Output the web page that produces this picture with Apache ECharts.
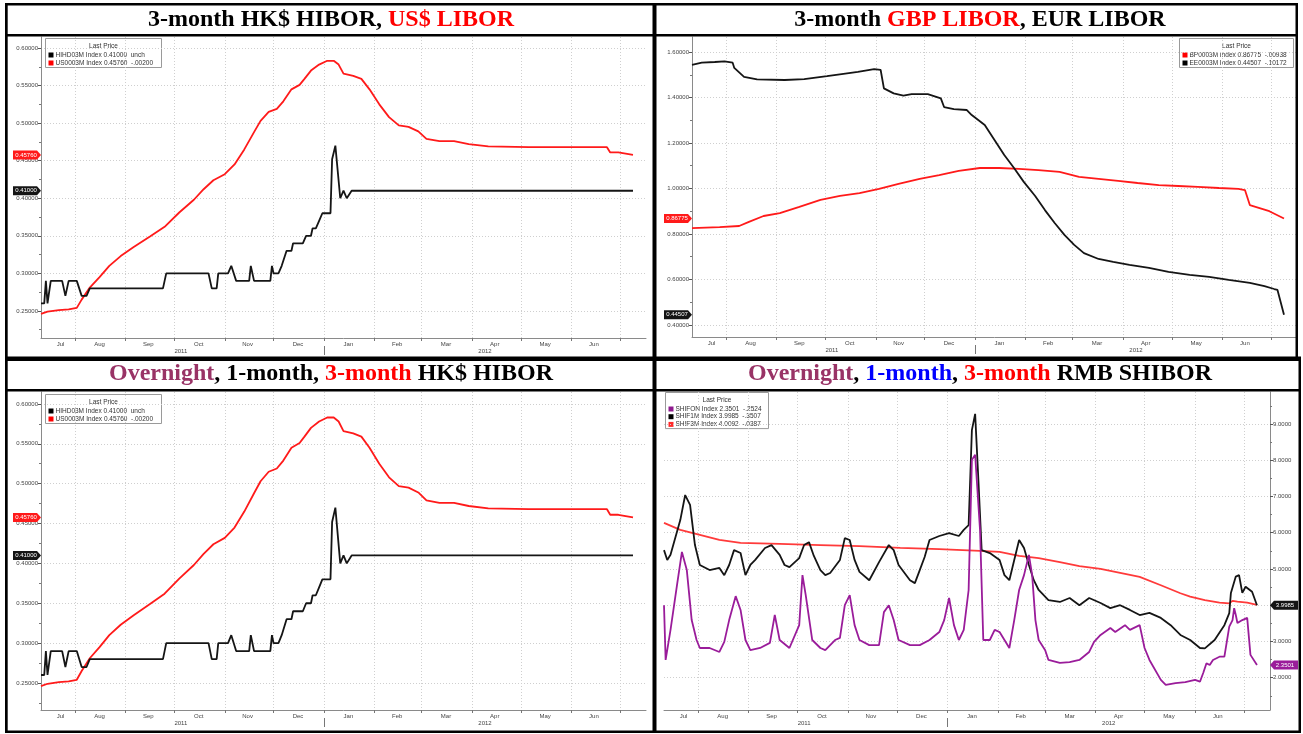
<!DOCTYPE html>
<html><head><meta charset="utf-8">
<script src="https://cdn.jsdelivr.net/npm/echarts@6.0.0/dist/echarts.min.js"></script>
<style>html,body{margin:0;padding:0;background:#fff;}#chart{width:1303px;height:734px;}</style>
</head><body><div id="chart"></div>
<script>
// ---------------- data ----------------
const MONTHS = ['Jan','Feb','Mar','Apr','May','Jun','Jul','Aug','Sep','Oct','Nov','Dec'];
const axisStart = '2011-07-11', axisEnd = '2012-07-17';
const monthStarts = ['2011-08-01','2011-09-01','2011-10-01','2011-11-01','2011-12-01','2012-01-01','2012-02-01','2012-03-01','2012-04-01','2012-05-01','2012-06-01','2012-07-01'];
const monthLabelAt = ['2011-07-23','2011-08-16','2011-09-15','2011-10-16','2011-11-15','2011-12-16','2012-01-16','2012-02-15','2012-03-16','2012-04-15','2012-05-16','2012-06-15'];
const yearLabelAt = ['2011-10-05','2012-04-09'];
const yearBreak = ['2012-01-01'];

const hkTicks = [0.25,0.30,0.35,0.40,0.45,0.50,0.55,0.60];
const hkMinor = [0.225,0.275,0.325,0.375,0.425,0.475,0.525,0.575];
const gbpTicks = [0.4,0.6,0.8,1.0,1.2,1.4,1.6];
const gbpMinor = [0.5,0.7,0.9,1.1,1.3,1.5];
const shTicks = [2,3,4,5,6,7,8,9];
const shMinor = [1.5,2.5,3.5,4.5,5.5,6.5,7.5,8.5,9.5];

// 3M HK$ HIBOR
const hiborDates = ['2011-07-11','2011-07-13','2011-07-14','2011-07-15','2011-07-17','2011-07-24','2011-07-26','2011-07-28','2011-08-02','2011-08-05','2011-08-08','2011-08-10','2011-09-24','2011-09-26','2011-10-22','2011-10-24','2011-10-27','2011-10-28','2011-11-03','2011-11-05','2011-11-08','2011-11-16','2011-11-17','2011-11-19','2011-11-29','2011-11-30','2011-12-01','2011-12-04','2011-12-06','2011-12-09','2011-12-12','2011-12-13','2011-12-19','2011-12-21','2011-12-24','2011-12-25','2011-12-27','2011-12-29','2011-12-31','2012-01-05','2012-01-06','2012-01-08','2012-01-09','2012-01-11','2012-01-13','2012-01-15','2012-01-16','2012-01-18','2012-07-09'];
const hiborValues = [0.26,0.26,0.29,0.26,0.29,0.29,0.27,0.29,0.29,0.27,0.27,0.28,0.28,0.30,0.30,0.28,0.28,0.30,0.30,0.31,0.29,0.29,0.31,0.29,0.29,0.31,0.30,0.30,0.31,0.33,0.33,0.34,0.34,0.35,0.35,0.36,0.36,0.37,0.38,0.38,0.452,0.47,0.47,0.40,0.41,0.40,0.40,0.41,0.41];

// 3M US$ LIBOR
const usDates = ['2011-07-11','2011-07-15','2011-07-22','2011-07-28','2011-08-02','2011-08-05','2011-08-10','2011-08-16','2011-08-22','2011-08-29','2011-09-06','2011-09-16','2011-09-25','2011-10-04','2011-10-13','2011-10-19','2011-10-25','2011-11-01','2011-11-07','2011-11-13','2011-11-19','2011-11-23','2011-11-28','2011-12-03','2011-12-07','2011-12-12','2011-12-17','2011-12-20','2011-12-24','2011-12-29','2012-01-03','2012-01-07','2012-01-10','2012-01-13','2012-01-19','2012-01-24','2012-01-29','2012-02-04','2012-02-10','2012-02-16','2012-02-22','2012-02-28','2012-03-04','2012-03-12','2012-03-21','2012-03-30','2012-04-11','2012-05-06','2012-05-25','2012-06-12','2012-06-23','2012-06-25','2012-06-30','2012-07-09'];
const usValues = [0.246,0.249,0.251,0.252,0.254,0.265,0.281,0.295,0.310,0.323,0.335,0.349,0.362,0.381,0.398,0.412,0.424,0.432,0.445,0.465,0.488,0.503,0.515,0.519,0.529,0.545,0.551,0.559,0.570,0.578,0.583,0.583,0.578,0.566,0.563,0.559,0.545,0.525,0.508,0.497,0.495,0.489,0.479,0.476,0.476,0.472,0.469,0.468,0.468,0.468,0.468,0.461,0.461,0.4576];

// 3M GBP LIBOR
const gbpDates = ['2011-07-11','2011-07-28','2011-08-09','2011-08-15','2011-08-24','2011-09-03','2011-09-15','2011-09-28','2011-10-10','2011-10-22','2011-11-03','2011-11-15','2011-11-28','2011-12-10','2011-12-22','2012-01-04','2012-01-16','2012-01-28','2012-02-09','2012-02-22','2012-03-05','2012-03-17','2012-03-29','2012-04-10','2012-04-23','2012-05-05','2012-05-17','2012-05-30','2012-06-11','2012-06-15','2012-06-18','2012-06-24','2012-06-30','2012-07-09'];
const gbpValues = [0.826,0.83,0.835,0.853,0.879,0.892,0.919,0.95,0.967,0.98,0.998,1.02,1.042,1.059,1.077,1.09,1.09,1.086,1.081,1.073,1.051,1.042,1.033,1.024,1.015,1.011,1.007,1.002,0.998,0.993,0.927,0.914,0.9,0.86775];

// 3M EUR LIBOR
const eurDates = ['2011-07-11','2011-07-17','2011-07-25','2011-07-31','2011-08-05','2011-08-06','2011-08-12','2011-08-20','2011-09-06','2011-09-18','2011-10-02','2011-10-11','2011-10-21','2011-10-31','2011-11-04','2011-11-06','2011-11-12','2011-11-18','2011-11-23','2011-12-03','2011-12-11','2011-12-13','2011-12-19','2011-12-27','2011-12-30','2012-01-07','2012-01-13','2012-01-19','2012-01-25','2012-01-31','2012-02-07','2012-02-13','2012-02-19','2012-02-25','2012-03-02','2012-03-08','2012-03-17','2012-03-26','2012-04-05','2012-04-17','2012-04-29','2012-05-12','2012-05-24','2012-06-05','2012-06-18','2012-06-27','2012-07-03','2012-07-05','2012-07-09'];
const eurValues = [1.543,1.553,1.556,1.559,1.553,1.53,1.491,1.48,1.477,1.481,1.494,1.503,1.513,1.525,1.521,1.44,1.418,1.408,1.415,1.415,1.396,1.358,1.349,1.345,1.323,1.279,1.213,1.147,1.09,1.029,0.967,0.905,0.848,0.796,0.752,0.716,0.69,0.677,0.664,0.651,0.633,0.62,0.611,0.598,0.585,0.571,0.558,0.554,0.44507];

// SHIBOR overnight
const onDates = ['2011-07-11','2011-07-12','2011-07-15','2011-07-19','2011-07-22','2011-07-25','2011-07-28','2011-07-31','2011-08-02','2011-08-08','2011-08-14','2011-08-17','2011-08-20','2011-08-24','2011-08-27','2011-08-30','2011-09-02','2011-09-08','2011-09-14','2011-09-17','2011-09-20','2011-09-26','2011-10-02','2011-10-04','2011-10-06','2011-10-10','2011-10-15','2011-10-18','2011-10-24','2011-10-27','2011-10-30','2011-11-02','2011-11-05','2011-11-08','2011-11-14','2011-11-20','2011-11-23','2011-11-26','2011-11-29','2011-12-02','2011-12-09','2011-12-15','2011-12-21','2011-12-27','2011-12-30','2012-01-02','2012-01-05','2012-01-08','2012-01-11','2012-01-14','2012-01-16','2012-01-18','2012-01-21','2012-01-23','2012-01-27','2012-01-30','2012-02-02','2012-02-05','2012-02-08','2012-02-11','2012-02-14','2012-02-17','2012-02-20','2012-02-22','2012-02-24','2012-02-26','2012-03-01','2012-03-03','2012-03-10','2012-03-16','2012-03-22','2012-03-28','2012-03-31','2012-04-04','2012-04-10','2012-04-13','2012-04-19','2012-04-22','2012-04-28','2012-05-01','2012-05-04','2012-05-11','2012-05-14','2012-05-20','2012-05-26','2012-06-01','2012-06-04','2012-06-06','2012-06-08','2012-06-10','2012-06-12','2012-06-16','2012-06-19','2012-06-20','2012-06-22','2012-06-24','2012-06-25','2012-06-26','2012-06-27','2012-06-30','2012-07-03','2012-07-05','2012-07-06','2012-07-09'];
const onValues = [4.0,2.49,3.32,4.56,5.47,4.97,3.59,3.04,2.82,2.82,2.71,2.99,3.59,4.25,3.87,3.04,2.76,2.82,2.96,3.73,3.04,2.82,3.45,4.83,4.28,3.04,2.82,2.76,3.04,3.1,4.0,4.28,3.45,3.04,2.9,2.9,3.81,4.0,3.59,3.04,2.9,2.9,3.04,3.26,3.59,4.2,3.45,3.04,3.32,4.42,8.01,8.15,6.08,3.04,3.04,3.32,3.26,3.04,2.82,3.59,4.42,4.83,5.39,4.83,3.59,3.04,2.76,2.49,2.41,2.43,2.49,2.71,2.99,3.18,3.37,3.26,3.45,3.32,3.45,2.82,2.49,1.94,1.8,1.85,1.88,1.94,1.89,2.13,2.4,2.35,2.49,2.58,2.58,2.86,3.41,3.59,3.92,3.73,3.51,3.59,3.65,2.63,2.6,2.3501];

// SHIBOR 1-month
const m1Dates = ['2011-07-11','2011-07-13','2011-07-15','2011-07-21','2011-07-24','2011-07-27','2011-07-30','2011-08-02','2011-08-08','2011-08-14','2011-08-17','2011-08-20','2011-08-23','2011-08-27','2011-08-30','2011-09-02','2011-09-05','2011-09-11','2011-09-15','2011-09-20','2011-09-23','2011-09-26','2011-10-02','2011-10-05','2011-10-08','2011-10-11','2011-10-15','2011-10-18','2011-10-21','2011-10-27','2011-10-30','2011-11-02','2011-11-05','2011-11-08','2011-11-14','2011-11-20','2011-11-26','2011-11-29','2011-12-02','2011-12-09','2011-12-12','2011-12-15','2011-12-18','2011-12-21','2011-12-27','2012-01-02','2012-01-08','2012-01-11','2012-01-14','2012-01-16','2012-01-18','2012-01-20','2012-01-22','2012-01-27','2012-02-02','2012-02-05','2012-02-08','2012-02-11','2012-02-14','2012-02-17','2012-02-20','2012-02-23','2012-02-26','2012-03-03','2012-03-10','2012-03-16','2012-03-22','2012-03-28','2012-04-04','2012-04-10','2012-04-16','2012-04-22','2012-04-28','2012-05-04','2012-05-11','2012-05-17','2012-05-23','2012-05-29','2012-06-04','2012-06-07','2012-06-13','2012-06-19','2012-06-22','2012-06-23','2012-06-26','2012-06-28','2012-06-30','2012-07-02','2012-07-06','2012-07-09'];
const m1Values = [5.52,5.25,5.39,6.35,7.04,6.77,5.66,5.11,4.97,5.03,4.83,5.11,5.52,5.44,4.83,5.11,5.25,5.58,5.66,5.39,5.11,5.05,5.3,5.66,5.74,5.36,4.97,4.83,4.89,5.25,5.85,5.8,5.25,4.92,4.69,5.19,5.66,5.52,5.11,4.69,4.61,4.97,5.33,5.8,5.91,5.99,5.91,6.08,6.21,8.83,9.28,7.45,5.52,5.44,5.25,4.83,4.69,5.25,5.8,5.58,5.11,4.69,4.42,4.14,4.09,4.2,4.0,4.2,4.06,3.92,4.0,3.87,3.73,3.79,3.65,3.45,3.18,3.04,2.82,2.81,3.04,3.45,3.78,4.34,4.79,4.83,4.34,4.51,4.37,3.9985];

// SHIBOR 3-month
const m3Dates = ['2011-07-11','2011-07-21','2011-08-02','2011-08-14','2011-08-27','2011-09-20','2011-10-15','2011-11-08','2011-12-03','2011-12-27','2012-01-21','2012-02-02','2012-02-14','2012-02-26','2012-03-10','2012-03-22','2012-04-04','2012-04-16','2012-04-28','2012-05-11','2012-05-23','2012-05-29','2012-06-07','2012-06-16','2012-06-22','2012-06-24','2012-06-27','2012-07-03','2012-07-09'];
const m3Values = [6.27,6.08,5.94,5.8,5.72,5.69,5.66,5.63,5.58,5.55,5.5,5.47,5.36,5.3,5.19,5.08,5.0,4.89,4.78,4.55,4.33,4.24,4.14,4.07,4.05,4.12,4.1,4.07,4.0092];

const legendHK = [['#000','HIHD03M Index 0.41000  unch'],['#ff0000','US0003M Index 0.45760  -.00200']];
const legendEU = [['#ff0000','BP0003M Index 0.86775  -.00938'],['#000','EE0003M Index 0.44507  -.10172']];
const legendSH = [['#8e1a8e','SHIFON Index 2.3501  -.2524'],['#000','SHIF1M Index 3.9985  -.3507'],['#ff2a2a','SHIF3M Index 4.0092  -.0387']];

// ---------------- helpers ----------------
const T = s => { const p = s.split('-').map(Number); return Date.UTC(p[0], p[1]-1, p[2]); };
const mk = (d, v) => d.map((x, i) => [T(x), v[i]]);
const FONT = 'Liberation Sans';
const RED = '#ff1a1a', BLK = '#151515', PUR = '#9a1c9a', RED2 = '#ff3a3a';

const panels = [
  {grid:{left:41, right:657, top:37, height:301}, yMin:0.2139, yMax:0.6147, ticks:hkTicks, minor:hkMinor, dig:5, side:'left',
   series:[{d:usDates, v:usValues, c:RED, tag:true}, {d:hiborDates, v:hiborValues, c:BLK, tag:true}]},
  {grid:{left:692, right:6, top:37, height:300}, yMin:0.347, yMax:1.666, ticks:gbpTicks, minor:gbpMinor, dig:5, side:'left',
   series:[{d:gbpDates, v:gbpValues, c:RED, tag:true}, {d:eurDates, v:eurValues, c:BLK, tag:true}]},
  {grid:{left:41, right:657, top:392, height:318}, yMin:0.2161, yMax:0.615, ticks:hkTicks, minor:hkMinor, dig:5, side:'left',
   series:[{d:usDates, v:usValues, c:RED, tag:true}, {d:hiborDates, v:hiborValues, c:BLK, tag:true}]},
  {grid:{left:664, right:33, top:392, height:318}, yMin:1.109, yMax:9.883, ticks:shTicks, minor:shMinor, dig:4, side:'right',
   series:[{d:m3Dates, v:m3Values, c:RED2, tag:false}, {d:m1Dates, v:m1Values, c:BLK, tag:true}, {d:onDates, v:onValues, c:PUR, tag:true}]}
];

const grid = [], xAxis = [], yAxis = [], series = [];
const xMin = T(axisStart), xMax = T(axisEnd);
panels.forEach((p, i) => {
  grid.push(Object.assign({outerBoundsMode:'none', containLabel:false}, p.grid));
  xAxis.push({type:'value', gridIndex:i, min:xMin, max:xMax, position:'bottom',
    axisLine:{onZero:false, lineStyle:{color:'#8a8a8a', width:1}},
    axisTick:{customValues:monthStarts.map(T), length:3, lineStyle:{color:'#777'}},
    axisLabel:{customValues:monthLabelAt.map(T), formatter:v => MONTHS[new Date(v).getUTCMonth()], fontSize:6, fontFamily:FONT, color:'#444', margin:3},
    splitLine:{show:true, lineStyle:{color:'#cfcfcf', type:[1,2], width:1}}});
  xAxis.push({type:'value', gridIndex:i, min:xMin, max:xMax, position:'bottom', offset:8,
    axisLine:{show:false, onZero:false},
    axisTick:{customValues:yearBreak.map(T), length:9, lineStyle:{color:'#777'}},
    axisLabel:{customValues:yearLabelAt.map(T), formatter:v => String(new Date(v).getUTCFullYear()), fontSize:6, fontFamily:FONT, color:'#444', margin:2},
    splitLine:{show:false}});
  yAxis.push({type:'value', gridIndex:i, min:p.yMin, max:p.yMax, position:p.side,
    axisLine:{show:true, onZero:false, lineStyle:{color:'#8a8a8a', width:1}},
    axisTick:{customValues:p.ticks, length:3, lineStyle:{color:'#555'}},
    axisLabel:{customValues:p.ticks, formatter:v => v.toFixed(p.dig), fontSize:6, fontFamily:FONT, color:'#444', margin:3},
    splitLine:{show:true, lineStyle:{color:'#cfcfcf', type:[1,2], width:1}}});
  yAxis.push({type:'value', gridIndex:i, min:p.yMin, max:p.yMax, position:p.side,
    axisLine:{show:false, onZero:false},
    axisTick:{customValues:p.minor, length:2, lineStyle:{color:'#777'}},
    axisLabel:{show:false}, splitLine:{show:false}});
  p.series.forEach(s => {
    const last = s.v[s.v.length - 1];
    const left = p.side === 'left';
    const o = {type:'line', xAxisIndex:2*i, yAxisIndex:2*i, data:mk(s.d, s.v), showSymbol:false, symbol:'none',
      lineStyle:{color:s.c, width:1.8}, itemStyle:{color:s.c}, clip:true, animation:false, silent:true};
    if (s.tag) {
      o.markPoint = {silent:true, animation:false,
        symbol: left ? 'path://M0 0H24L28 4L24 8H0Z' : 'path://M4 0H28V8H4L0 4Z',
        symbolSize:[28,9], symbolKeepAspect:false, symbolOffset:[left ? -14 : 14, 0],
        itemStyle:{color:s.c},
        label:{show:true, position:'inside', color:'#fff', fontSize:6, fontFamily:FONT, offset:[left ? -1 : 1, 0], formatter:() => last.toFixed(p.dig)},
        data:[{coord:[left ? xMin : xMax, last]}]};
    }
    series.push(o);
  });
});

// ---------------- graphic: frames, titles, legends ----------------
const blk = (x, y, w, h) => ({type:'rect', silent:true, shape:{x, y, width:w, height:h}, style:{fill:'#000'}, z:100});
const frames = [
  blk(5, 3, 1293, 2.5), blk(5, 3, 2.7, 730), blk(5, 730.5, 1296, 2.5),
  blk(1295.5, 3, 2.5, 356), blk(1298.5, 357, 2.5, 376),
  blk(652.5, 3, 4, 730), blk(5, 356.5, 1296, 4.5),
  blk(5, 34, 1293, 2.5), blk(5, 389, 1296, 2.5)
];
const TF = {fontSize:24, fontFamily:'Liberation Serif', fontWeight:'bold'};
const rich = {k:Object.assign({fill:'#000'}, TF), r:Object.assign({fill:'#ff0000'}, TF), p:Object.assign({fill:'#993366'}, TF), b:Object.assign({fill:'#0000ff'}, TF)};
const ttl = (x, y, text) => ({type:'text', x, y, silent:true, z:100, style:{text, rich, align:'center', verticalAlign:'middle'}});
const titles = [
  ttl(331, 20, '{k|3-month HK$ HIBOR, }{r|US$ LIBOR}'),
  ttl(980, 20, '{k|3-month }{r|GBP LIBOR}{k|, EUR LIBOR}'),
  ttl(331, 374, '{p|Overnight}{k|, 1-month, }{r|3-month}{k| HK$ HIBOR}'),
  ttl(980, 374, '{p|Overnight}{k|, }{b|1-month}{k|, }{r|3-month}{k| RMB SHIBOR}')
];
function legendBox(x, y, w, rowH, rows) {
  const h = 10 + rows.length * rowH + 3;
  const ch = [{type:'rect', shape:{x:0, y:0, width:w, height:h}, style:{fill:'#fff', stroke:'#9a9a9a', lineWidth:1}},
              {type:'text', x:w/2, y:8, style:{text:'Last Price', align:'center', verticalAlign:'middle', fontSize:6.5, fontFamily:FONT, fill:'#333'}}];
  rows.forEach((r, i) => {
    const cy = 16.5 + i * rowH;
    ch.push({type:'rect', shape:{x:3, y:cy - 2.5, width:5, height:5}, style:{fill:r[0]}});
    ch.push({type:'text', x:10, y:cy, style:{text:r[1], align:'left', verticalAlign:'middle', fontSize:6.5, fontFamily:FONT, fill:'#333'}});
  });
  return {type:'group', x, y, z:50, silent:true, children:ch};
}
const legends = [
  legendBox(45.5, 38.5, 116, 8, legendHK),
  legendBox(1179.5, 38.5, 114, 8, legendEU),
  legendBox(45.5, 394.5, 116, 8, legendHK),
  legendBox(665.5, 392.5, 103, 7.7, legendSH)
];

const chart = echarts.init(document.getElementById('chart'), null, {renderer:'canvas'});
chart.setOption({
  animation:false, backgroundColor:'#fff',
  grid, xAxis, yAxis, series,
  graphic:{elements:[...frames, ...titles, ...legends]}
});
</script></body></html>
